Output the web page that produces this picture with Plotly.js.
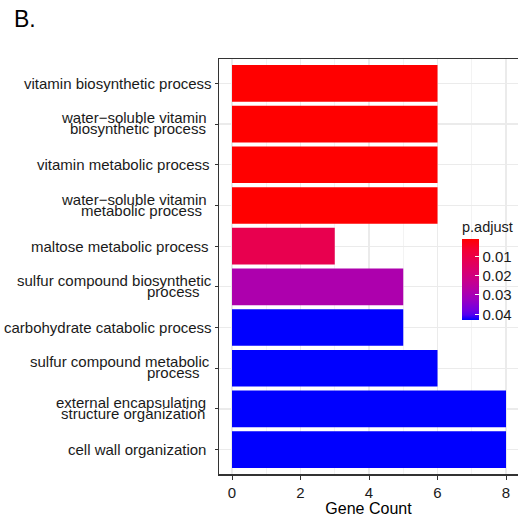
<!DOCTYPE html>
<html>
<head>
<meta charset="utf-8">
<script src="https://cdn.plot.ly/plotly-3.0.1.min.js"></script>
<style>html,body{margin:0;padding:0;background:#fff;}#chart{width:518px;height:517px;}</style>
</head>
<body>
<div id="chart"></div>
<script>
// ---- data ----
const categories = [
  "vitamin biosynthetic process",
  "water\u2212soluble vitamin\nbiosynthetic process",
  "vitamin metabolic process",
  "water\u2212soluble vitamin\nmetabolic process",
  "maltose metabolic process",
  "sulfur compound biosynthetic\nprocess",
  "carbohydrate catabolic process",
  "sulfur compound metabolic\nprocess",
  "external encapsulating\nstructure organization",
  "cell wall organization"
];
const geneCount = [6, 6, 6, 6, 3, 5, 5, 6, 8, 8];
const pAdjust = [0.0009, 0.0009, 0.0009, 0.0009, 0.0114, 0.0286, 0.0428, 0.0428, 0.0428, 0.0428];
const xTickVals = [0, 2, 4, 6, 8];
const legendTickVals = [0.01, 0.02, 0.03, 0.04];
const legendTickText = ["0.01", "0.02", "0.03", "0.04"];

// ---- styling ----
const FONT = "Liberation Sans, Arial, sans-serif";
const TXT = "#1a1a1a";
// blue (high p) -> red (low p), interpolated in Lab space as ggplot does.
// Colour is driven by -p.adjust so the legend reads 0.01 at top (red) to 0.04 at bottom (blue).
const colorscale = [
  [0, "rgb(0,0,255)"], [0.0625, "rgb(83,0,240)"], [0.125, "rgb(115,0,224)"],
  [0.25, "rgb(154,0,194)"], [0.375, "rgb(181,0,165)"], [0.5, "rgb(202,0,137)"],
  [0.625, "rgb(218,0,108)"], [0.75, "rgb(232,0,79)"], [0.875, "rgb(244,0,49)"],
  [1, "rgb(255,0,0)"]
];
const negP = pAdjust.map(v => -v);
const L = 219, T = 59, B = 43, W = 518, H = 517;
// right edge (px) of each label line
const labelRight = [[211],[206,205],[209],[206,201],[208],[211,199],[211],[209,199],[205,204],[205]];

const annotations = [];
categories.forEach((c, i) => {
  const lines = c.split("\n");
  const shifts = lines.length === 1 ? [0] : [6.3, -4.6];
  lines.forEach((ln, j) => {
    annotations.push({
      xref: "paper", yref: "y", x: 0, y: c,
      xanchor: "right", yanchor: "middle",
      xshift: labelRight[i][j] - L + 3, yshift: shifts[j],
      text: ln, showarrow: false,
      font: {family: FONT, size: 15, color: TXT}
    });
  });
});

const trace = {
  type: "bar", orientation: "h",
  x: geneCount, y: categories,
  customdata: pAdjust,
  marker: {
    color: negP, colorscale: colorscale,
    cmin: Math.min(...negP), cmax: Math.max(...negP),
    line: {width: 0},
    showscale: true,
    colorbar: {
      title: {text: "p.adjust", side: "top", font: {family: FONT, size: 14.5, color: TXT}},
      thickness: 17, thicknessmode: "pixels",
      len: 102, lenmode: "pixels",
      x: (462 - L) / (W - L), xanchor: "left", xref: "paper",
      y: (H - B - 268.7) / (H - T - B), yanchor: "middle", yref: "paper",
      xpad: 0, ypad: 0, outlinewidth: 0,
      tickvals: legendTickVals.map(v => -v), ticktext: legendTickText,
      ticks: "inside", tickcolor: "#ffffff", ticklen: 4, tickwidth: 1,
      tickfont: {family: FONT, size: 15, color: TXT}
    }
  },
  hovertemplate: "%{y}: %{x} (p.adjust %{customdata})<extra></extra>"
};

const layout = {
  width: W, height: H,
  margin: {l: L, r: 0, t: T, b: B, pad: 0},
  paper_bgcolor: "#ffffff", plot_bgcolor: "#ffffff",
  bargap: 0.1,
  showlegend: false,
  title: {text: "B.", x: 14 / W, xanchor: "left", xref: "container",
          y: 1 - 18.5 / H, yanchor: "middle", yref: "container",
          font: {family: FONT, size: 23, color: "#000"}},
  xaxis: {
    range: [-0.38, 8.35], tickvals: xTickVals,
    showgrid: true, gridcolor: "#ebebeb", gridwidth: 1.3,
    minor: {dtick: 1, tick0: 0, showgrid: true, gridcolor: "#f0f0f0", gridwidth: 0.8},
    zeroline: false,
    showline: true, linecolor: "#333333", linewidth: 1.5, mirror: true,
    ticks: "outside", ticklen: 4, tickcolor: "#333333", tickwidth: 1,
    tickfont: {family: FONT, size: 15, color: TXT},
    title: {text: "Gene Count", font: {family: FONT, size: 16, color: "#000"}, standoff: 4}
  },
  yaxis: {
    type: "category", categoryorder: "array", categoryarray: categories,
    range: [9.6, -0.6],
    showgrid: true, gridcolor: "#ebebeb", gridwidth: 1.3,
    zeroline: false,
    showline: true, linecolor: "#333333", linewidth: 1.5, mirror: false,
    ticks: "outside", ticklen: 3, tickcolor: "#333333", tickwidth: 1,
    showticklabels: false
  },
  annotations: annotations
};

Plotly.newPlot("chart", [trace], layout, {displayModeBar: false, staticPlot: true});
</script>
</body>
</html>
